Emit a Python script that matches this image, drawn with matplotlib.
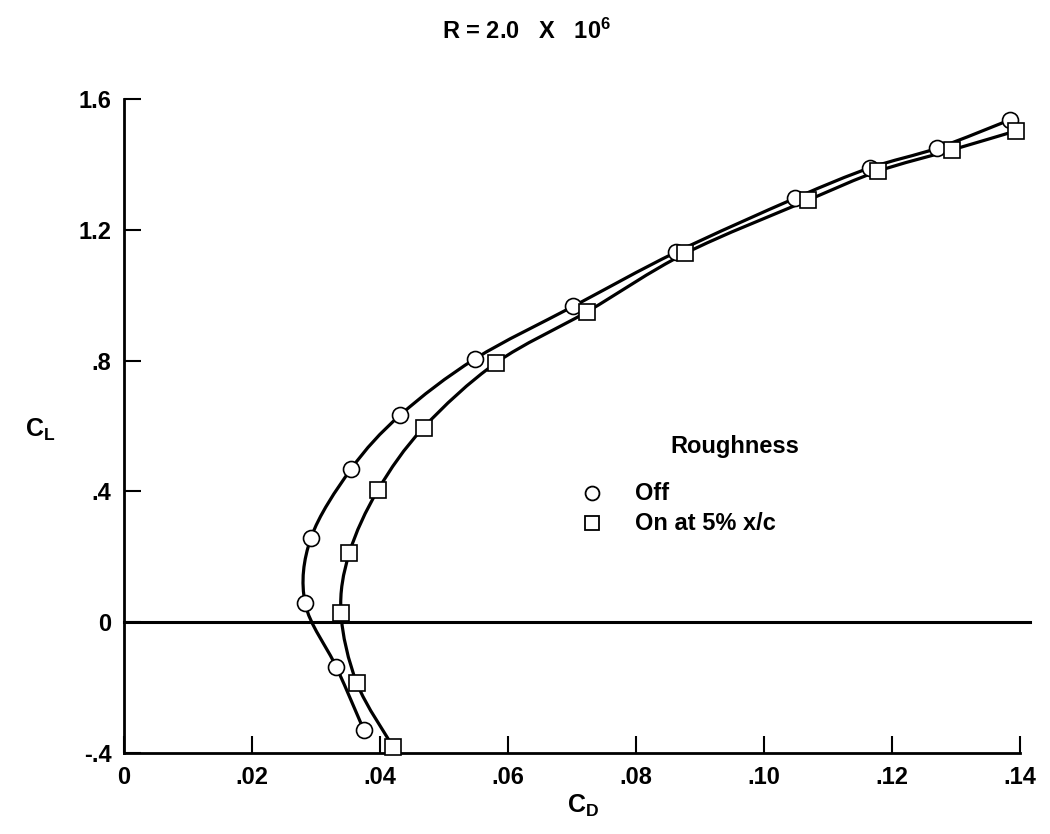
import matplotlib
matplotlib.use("Agg")
import matplotlib.pyplot as plt
import numpy as np
from matplotlib.path import Path
from matplotlib.patches import PathPatch

plt.rcParams['font.family'] = ['Liberation Sans', 'DejaVu Sans']
plt.rcParams['font.weight'] = 'bold'
plt.rcParams['mathtext.default'] = 'regular'

# Data: Roughness off (circles)
cd_off = [0.0375, 0.0332, 0.0283, 0.0292, 0.0355, 0.0432, 0.0549, 0.0702,
          0.0862, 0.1049, 0.1165, 0.1271, 0.1384]
cl_off = [-0.331, -0.138, 0.058, 0.257, 0.469, 0.634, 0.806, 0.966,
          1.131, 1.297, 1.389, 1.450, 1.536]
# Roughness on at 5% x/c (squares)
cd_on = [0.0421, 0.0364, 0.0339, 0.0352, 0.0397, 0.0468, 0.0582, 0.0724,
         0.0877, 0.1068, 0.1178, 0.1293, 0.1393]
cl_on = [-0.383, -0.187, 0.028, 0.211, 0.405, 0.595, 0.794, 0.950,
         1.128, 1.290, 1.379, 1.444, 1.502]

series_labels = ['Off', 'On at 5% x/c']
legend_title = 'Roughness'

xticks = [0, 0.02, 0.04, 0.06, 0.08, 0.10, 0.12, 0.14]
xticklabels = ["0", ".02", ".04", ".06", ".08", ".10", ".12", ".14"]
yticks = [-0.4, 0, 0.4, 0.8, 1.2, 1.6]
yticklabels = ["-.4", "0", ".4", ".8", "1.2", "1.6"]

W, H = 1050, 834
fig = plt.figure(figsize=(W / 100, H / 100), dpi=100)
ax = fig.add_axes([124 / W, 1 - 753 / H, (1020 - 124) / W, (753 - 99) / H])
ax.set_xlim(0, 0.14)
ax.set_ylim(-0.4, 1.6)


def fx(px):
    return px / W


def fy(py):
    return 1 - py / H


def faired_path(xs, ys):
    P = np.column_stack([xs, ys])
    n = len(P)
    ext = np.vstack([P[0], P, P[-1]])
    verts = [P[0]]
    codes = [Path.MOVETO]
    for i in range(n - 1):
        p0, p1, p2, p3 = ext[i], ext[i + 1], ext[i + 2], ext[i + 3]
        c1 = p1 + (p2 - p0) / 6.0
        c2 = p2 - (p3 - p1) / 6.0
        verts += [c1, c2, p2]
        codes += [Path.CURVE4] * 3
    return Path(verts, codes)


for xs, ys in [(cd_off, cl_off), (cd_on, cl_on)]:
    patch = PathPatch(faired_path(xs, ys), facecolor='none', edgecolor='black',
                      lw=2.3, zorder=2, capstyle='round', joinstyle='round')
    ax.add_patch(patch)

mstyle = dict(linestyle='none', markerfacecolor='white', markeredgecolor='black',
              markeredgewidth=1.2, zorder=3, clip_on=False)
ax.plot(cd_off, cl_off, marker='o', markersize=11.5, **mstyle)
ax.plot(cd_on, cl_on, marker='s', markersize=11, **mstyle)

ax.axhline(0, xmin=0, xmax=1.011, color='black', lw=2.2, clip_on=False, zorder=1)

for s in ['top', 'right']:
    ax.spines[s].set_visible(False)
for s in ['left', 'bottom']:
    ax.spines[s].set_linewidth(2.0)

ax.set_xticks(xticks)
ax.set_xticklabels(xticklabels)
ax.set_yticks(yticks)
ax.set_yticklabels(yticklabels)
ax.tick_params(direction='in', length=12, width=1.5, labelsize=17, pad=9)
for lab in ax.get_xticklabels() + ax.get_yticklabels():
    lab.set_fontweight('bold')

fig.text(fx(583), fy(806), "C$_D$", fontsize=18, fontweight='bold',
         ha='center', va='center')
fig.text(fx(40), fy(430), "C$_L$", fontsize=18, fontweight='bold',
         ha='center', va='center')
fig.text(fx(527), fy(31), "R = 2.0   X   10$^6$", fontsize=17, fontweight='bold',
         ha='center', va='center')

# Key
fig.text(fx(735), fy(446), legend_title, fontsize=17, fontweight='bold',
         ha='center', va='center')
key_style = dict(linestyle='none', markerfacecolor='white', markeredgecolor='black',
                 markeredgewidth=1.3, transform=fig.transFigure, clip_on=False)
ax.plot([fx(592)], [fy(493)], marker='o', markersize=10, **key_style)
ax.plot([fx(592)], [fy(523)], marker='s', markersize=9.5, **key_style)
fig.text(fx(635), fy(493), series_labels[0], fontsize=17, fontweight='bold',
         ha='left', va='center')
fig.text(fx(635), fy(523), series_labels[1], fontsize=17, fontweight='bold',
         ha='left', va='center')

fig.savefig("out.png", dpi=100)
